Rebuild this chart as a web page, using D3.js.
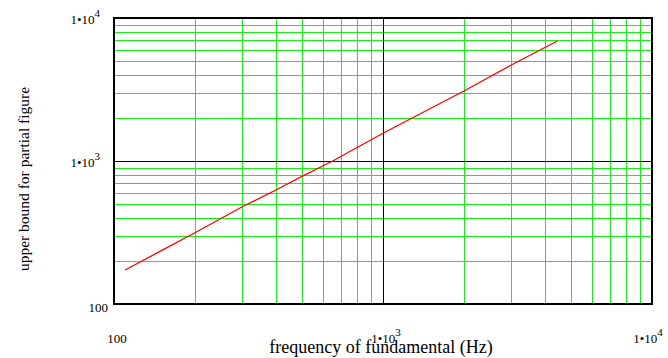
<!DOCTYPE html>
<html>
<head>
<meta charset="utf-8">
<script src="https://cdn.jsdelivr.net/npm/d3@7"></script>
<style>
  html, body { margin: 0; padding: 0; background: #fff; }
  svg { display: block; }
  text { font-family: "Liberation Serif", "Times New Roman", serif; fill: #000; }
</style>
</head>
<body>
<svg id="chart" width="668" height="358"></svg>
<script>
// Fundamental frequency (Hz) and the upper bound for the partial figure
const freq  = [110, 150, 200, 300, 400, 500, 650, 1000, 1500, 2000, 3000, 4450];
const bound = [173, 236, 315, 479, 627, 780, 1000, 1563, 2330, 3087, 4690, 6900];

// Axis ticks (both axes are log, 100 .. 10^4)
const tickValues = [100, 1000, 10000];
const tickBase   = ["100", "1\u202210", "1\u202210"];
const tickSup    = ["", "3", "4"];
const majorGrid  = [1000];
const decades    = [100, 1000];
const mantissas  = [2, 3, 4, 5, 6, 7, 8, 9];

const xTitle = "frequency of fundamental (Hz)";
const yTitle = "upper bound for partial figure";

const svg = d3.select("#chart");
const plotL = 114, plotR = 652, plotT = 18, plotB = 304;

const x = d3.scaleLog().domain([100, 10000]).range([plotL, plotR]);
const y = d3.scaleLog().domain([100, 10000]).range([plotB, plotT]);

const minor = decades.flatMap(d => mantissas.map(m => m * d));

const grid = svg.append("g").attr("shape-rendering", "crispEdges");
// minor green grid
grid.selectAll("line.vx").data(minor).join("line")
  .attr("class", "vx")
  .attr("x1", d => Math.round(x(d)) + 0.5).attr("x2", d => Math.round(x(d)) + 0.5)
  .attr("y1", plotT).attr("y2", plotB)
  .attr("stroke", "#14f014").attr("stroke-width", 1);
grid.selectAll("line.hy").data(minor).join("line")
  .attr("class", "hy")
  .attr("y1", d => Math.round(y(d)) + 0.5).attr("y2", d => Math.round(y(d)) + 0.5)
  .attr("x1", plotL).attr("x2", plotR)
  .attr("stroke", "#14f014").attr("stroke-width", 1);
// major black grid at 10^3
majorGrid.forEach(v => {
  grid.append("line")
    .attr("x1", Math.round(x(v)) + 0.5).attr("x2", Math.round(x(v)) + 0.5)
    .attr("y1", plotT).attr("y2", plotB)
    .attr("stroke", "#000").attr("stroke-width", 1.5);
  grid.append("line")
    .attr("y1", Math.round(y(v)) + 0.5).attr("y2", Math.round(y(v)) + 0.5)
    .attr("x1", plotL).attr("x2", plotR)
    .attr("stroke", "#000").attr("stroke-width", 1.5);
});

// data curve
const line = d3.line().x(d => x(d[0])).y(d => y(d[1]));
svg.append("path")
  .datum(d3.zip(freq, bound))
  .attr("d", line)
  .attr("fill", "none")
  .attr("stroke", "#ff0000")
  .attr("stroke-width", 1.3);

// frame
svg.append("rect")
  .attr("x", plotL).attr("y", plotT)
  .attr("width", plotR - plotL).attr("height", plotB - plotT)
  .attr("fill", "none").attr("stroke", "#000").attr("stroke-width", 2);

// tick labels
function tickLabel(g, i) {
  g.append("tspan").text(tickBase[i]);
  if (tickSup[i]) {
    g.append("tspan").attr("dy", -7).attr("font-size", 11).text(tickSup[i]);
  }
}

// y axis labels
tickValues.forEach((v, i) => {
  const t = svg.append("text")
    .attr("x", tickSup[i] ? 100 : 108)
    .attr("y", y(v) + (tickSup[i] ? 6 : 8))
    .attr("text-anchor", "end")
    .attr("font-size", 13);
  tickLabel(t, i);
});

// x axis labels
tickValues.forEach((v, i) => {
  const t = svg.append("text")
    .attr("x", Math.min(x(v) + 3, 648))
    .attr("y", 343)
    .attr("text-anchor", "middle")
    .attr("font-size", 13);
  tickLabel(t, i);
});

// axis titles
svg.append("text")
  .attr("x", 381).attr("y", 353)
  .attr("text-anchor", "middle")
  .attr("font-size", 18)
  .text(xTitle);

svg.append("text")
  .attr("transform", "translate(29,179) rotate(-90)")
  .attr("text-anchor", "middle")
  .attr("font-size", 15.5)
  .text(yTitle);
</script>
</body>
</html>
